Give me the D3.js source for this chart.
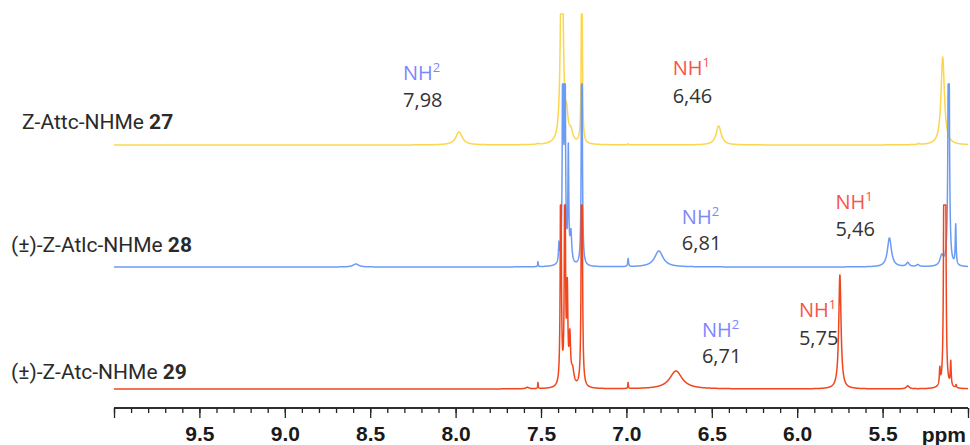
<!DOCTYPE html>
<html>
<head>
<meta charset="utf-8">
<script src="https://cdn.jsdelivr.net/npm/d3@7"></script>
<style>
  html, body { margin: 0; padding: 0; background: #fff; }
  svg { display: block; }
</style>
</head>
<body>
<svg id="chart" width="970" height="445"></svg>
<script>
// ---- data -------------------------------------------------------------
const ppmDomain = [10, 5];
const majorTicks = [10, 9.5, 9, 8.5, 8, 7.5, 7, 6.5, 6, 5.5, 5];
const labeledTicks = [9.5, 9, 8.5, 8, 7.5, 7, 6.5, 6, 5.5];
const axisUnit = "ppm";

const compoundNames = ["Z-Attc-NHMe", "(±)-Z-Atlc-NHMe", "(±)-Z-Atc-NHMe"];
const compoundNumbers = ["27", "28", "29"];

// peak lists: [shift (ppm), intensity (a.u.), half width at half height (ppm)]
const peaks27 = [
  [7.98, 13, 0.023],
  [7.52, 1, 0.004],
  [7.378, 300, 0.007],
  [7.35, 22, 0.010],
  [7.325, 10, 0.012],
  [7.261, 250, 0.003],
  [6.99, 1, 0.004],
  [6.46, 19, 0.018],
  [5.29, 1, 0.006],
  [5.148, 88, 0.012]
];
const peaks28 = [
  [8.584, 3, 0.02],
  [7.518, 5, 0.002],
  [7.395, 18, 0.003],
  [7.372, 300, 0.003],
  [7.36, 300, 0.003],
  [7.34, 110, 0.003],
  [7.325, 30, 0.006],
  [7.261, 300, 0.003],
  [6.99, 8, 0.003],
  [6.81, 16, 0.03],
  [5.46, 29, 0.014],
  [5.353, 4, 0.01],
  [5.294, 2, 0.01],
  [5.154, 10, 0.012],
  [5.113, 400, 0.0035],
  [5.072, 40, 0.003]
];
const peaks29 = [
  [7.58, 1.5, 0.01],
  [7.518, 6, 0.002],
  [7.384, 300, 0.003],
  [7.36, 300, 0.003],
  [7.346, 90, 0.004],
  [7.331, 45, 0.005],
  [7.315, 15, 0.01],
  [7.261, 400, 0.003],
  [6.99, 6, 0.002],
  [6.71, 18, 0.044],
  [5.75, 114, 0.008],
  [5.353, 3, 0.01],
  [5.165, 16, 0.003],
  [5.14, 300, 0.003],
  [5.132, 300, 0.003],
  [5.101, 24, 0.003],
  [5.07, 3, 0.003]
];
const spectra = [peaks27, peaks28, peaks29];
// highest intensity drawn for each trace (taller peaks are cut flat)
const cutoffIntensity = [131, 183, 184];

// NH assignments: trace index, NH number, chemical shift (ppm)
const nhTrace = [0, 0, 1, 1, 2, 2];
const nhProton = [2, 1, 2, 1, 2, 1];
const nhShift = [7.98, 6.46, 6.81, 5.46, 6.71, 5.75];

// ---- layout -----------------------------------------------------------
const W = 970, H = 445;
const baselines = [145, 267, 389];
const traceColors = ["#FCD64E", "#6C9BF5", "#F0461E"];
const nameX = [22, 11, 11];
const nameY = [129, 252, 379];
// annotation placement: x offset from the peak, baseline of "NH" line, baseline of value line
const nhPlace = [[-56, 80, 107], [-46, 75, 103], [23, 224, 250], [-54, 209, 236], [26, 337, 363], [-41, 317, 345]];
const nhColor = { 1: "#F5554B", 2: "#7D87FA" };
const axisY = 408;

const svg = d3.select("#chart");

const x = d3.scaleLinear().domain(ppmDomain).range([114, 968]);

// sampling grid along the ppm axis
const grid = d3.range(0, 10001).map(i => ppmDomain[0] - i * (ppmDomain[0] - ppmDomain[1]) / 10000);

function intensityAt(peaks, ppm) {
  let s = 0;
  for (const [c, h, w] of peaks) {
    const u = (ppm - c) / w;
    s += h / (1 + u * u);
  }
  return s;
}

spectra.forEach((peaks, i) => {
  const y = d3.scaleLinear()
    .domain([0, cutoffIntensity[i]])
    .range([baselines[i], baselines[i] - cutoffIntensity[i]])
    .clamp(true);
  const line = d3.line()
    .x(d => x(d[0]))
    .y(d => y(d[1]));
  const pts = grid.map(p => [p, intensityAt(peaks, p)]);
  svg.append("path")
    .attr("d", line(pts))
    .attr("fill", "none")
    .attr("stroke", traceColors[i])
    .attr("stroke-width", 1.5)
    .attr("stroke-linejoin", "round");
});

// compound names
compoundNames.forEach((name, i) => {
  const t = svg.append("text")
    .attr("x", nameX[i])
    .attr("y", nameY[i])
    .attr("font-family", "Roboto, 'Open Sans', sans-serif")
    .attr("font-size", 21)
    .attr("fill", "#2a2a2a");
  t.append("tspan").text(name + " ");
  t.append("tspan").attr("font-weight", "bold").text(compoundNumbers[i]);
});

// NH annotations
const comma = d3.formatLocale({ decimal: ",", thousands: ".", grouping: [3], currency: ["", ""] }).format(".2f");
nhShift.forEach((shift, k) => {
  const [dx, y1, y2] = nhPlace[k];
  const px = x(shift) + dx;
  const g = svg.append("g")
    .attr("font-family", "'Open Sans', 'Noto Sans', sans-serif")
    .attr("font-size", 20);
  const t = g.append("text").attr("x", px).attr("y", y1).attr("fill", nhColor[nhProton[k]]);
  t.append("tspan").text("NH");
  t.append("tspan").attr("font-size", 13).attr("dy", -8).text(String(nhProton[k]));
  g.append("text").attr("x", px).attr("y", y2).attr("fill", "#333").text(comma(shift));
});

// ppm axis
const axisG = svg.append("g").attr("transform", `translate(0,${axisY})`);
axisG.append("g")
  .call(d3.axisBottom(x)
    .tickValues(d3.range(50, 101).map(v => v / 10))
    .tickSize(5)
    .tickFormat(""));
axisG.append("g")
  .call(d3.axisBottom(x)
    .tickValues(majorTicks)
    .tickSize(10)
    .tickPadding(8)
    .tickFormat(d => labeledTicks.includes(d) ? d3.format(".1f")(d) : ""));
axisG.selectAll(".domain").attr("stroke", "#222").attr("stroke-width", 1.5);
axisG.selectAll(".tick line").attr("stroke", "#222").attr("stroke-width", 1.3);
axisG.selectAll(".tick text")
  .attr("font-family", "'Liberation Sans', Arial, sans-serif")
  .attr("font-weight", "bold")
  .attr("font-size", 21)
  .attr("fill", "#1a1a1a");
axisG.selectAll(".domain").attr("d", `M${x(ppmDomain[0])},0H${x(ppmDomain[1])}`);

svg.append("text")
  .attr("x", 966)
  .attr("y", 442)
  .attr("text-anchor", "end")
  .attr("font-family", "'Liberation Sans', Arial, sans-serif")
  .attr("font-weight", "bold")
  .attr("font-size", 21)
  .attr("fill", "#1a1a1a")
  .text(axisUnit);
</script>
</body>
</html>
